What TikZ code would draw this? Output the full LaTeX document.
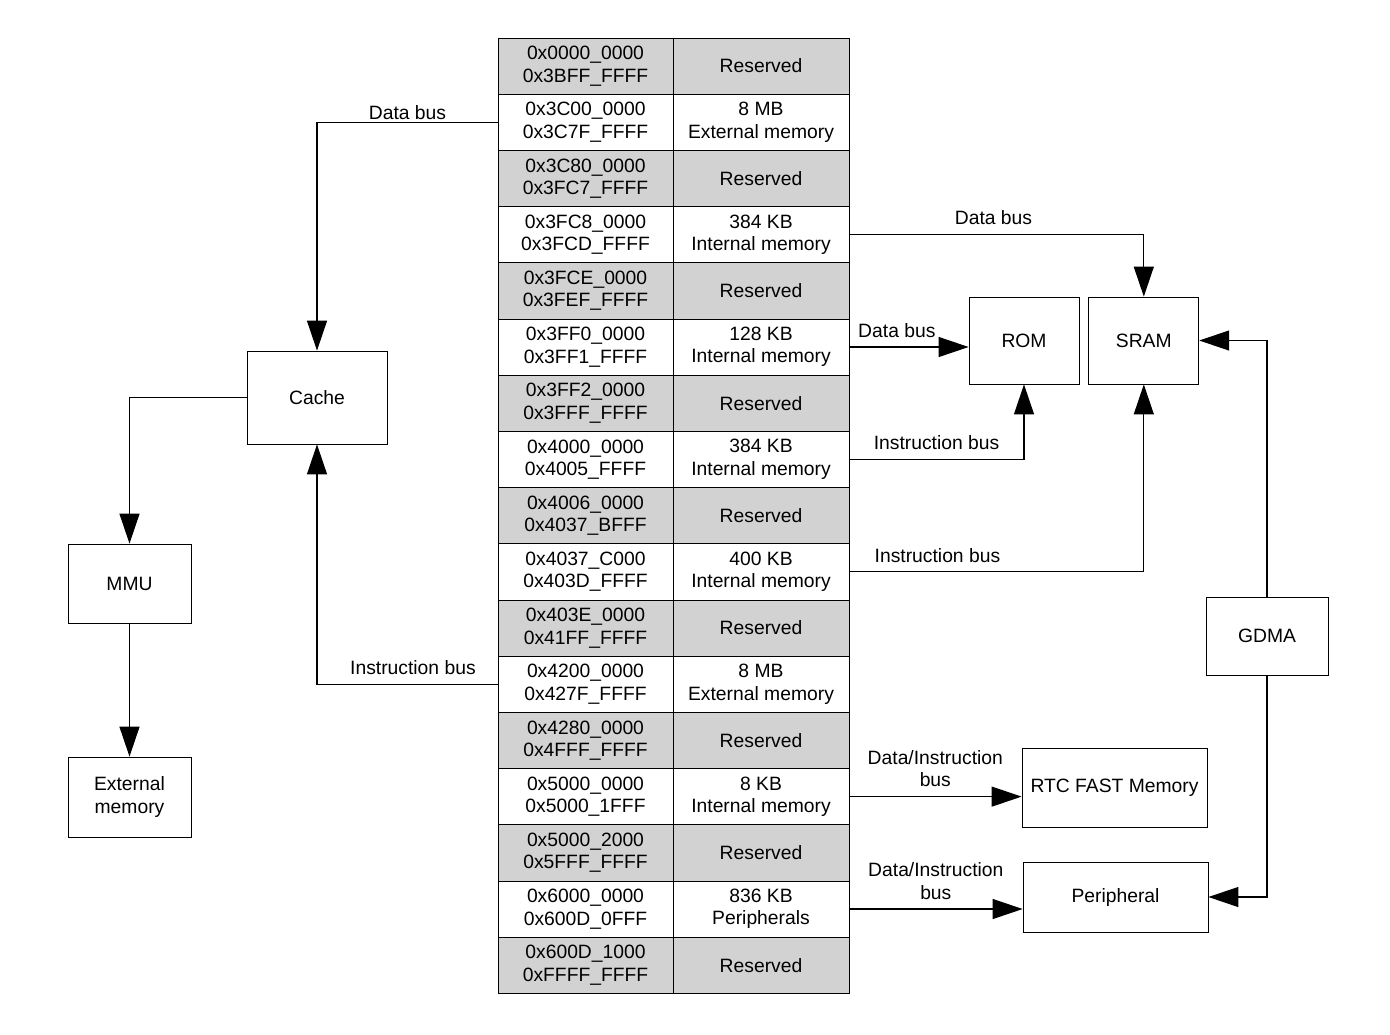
\documentclass[tikz,border=0pt]{standalone}
\usepackage{fontspec}
\setmainfont{Liberation Sans}
\usepackage{tikz}
\usetikzlibrary{arrows.meta, positioning}
\tikzstyle{cell} = [draw, minimum width = 87.5pt, minimum height = 28.1pt, inner sep = 0pt,
outer sep = 0pt, align = center, text centered]
\tikzstyle{resv} = [cell, fill = gray!35]
\tikzstyle{block} = [draw, align = center, text centered, inner sep = 0pt]
\tikzstyle{arrow} = [line width = 0.6pt, -{Triangle[length = 15pt, width = 10pt]}]
\tikzstyle{bus} = [above, inner sep = 4.5pt, align = center]

\begin{document}
\begin{tikzpicture} [x = 0.5pt, y = -0.5pt, font = \fontsize{9.65pt}{11.2pt}\selectfont]
\useasboundingbox (0,0) rectangle (1390,1034);

% memory map, address column
\node (addr0) [resv] at (585.5,66) {0x0000\_0000\\0x3BFF\_FFFF};
\node (addr1) [cell, below = 0pt of addr0] {0x3C00\_0000\\0x3C7F\_FFFF};
\node (addr2) [resv, below = 0pt of addr1] {0x3C80\_0000\\0x3FC7\_FFFF};
\node (addr3) [cell, below = 0pt of addr2] {0x3FC8\_0000\\0x3FCD\_FFFF};
\node (addr4) [resv, below = 0pt of addr3] {0x3FCE\_0000\\0x3FEF\_FFFF};
\node (addr5) [cell, below = 0pt of addr4] {0x3FF0\_0000\\0x3FF1\_FFFF};
\node (addr6) [resv, below = 0pt of addr5] {0x3FF2\_0000\\0x3FFF\_FFFF};
\node (addr7) [cell, below = 0pt of addr6] {0x4000\_0000\\0x4005\_FFFF};
\node (addr8) [resv, below = 0pt of addr7] {0x4006\_0000\\0x4037\_BFFF};
\node (addr9) [cell, below = 0pt of addr8] {0x4037\_C000\\0x403D\_FFFF};
\node (addr10) [resv, below = 0pt of addr9] {0x403E\_0000\\0x41FF\_FFFF};
\node (addr11) [cell, below = 0pt of addr10] {0x4200\_0000\\0x427F\_FFFF};
\node (addr12) [resv, below = 0pt of addr11] {0x4280\_0000\\0x4FFF\_FFFF};
\node (addr13) [cell, below = 0pt of addr12] {0x5000\_0000\\0x5000\_1FFF};
\node (addr14) [resv, below = 0pt of addr13] {0x5000\_2000\\0x5FFF\_FFFF};
\node (addr15) [cell, below = 0pt of addr14] {0x6000\_0000\\0x600D\_0FFF};
\node (addr16) [resv, below = 0pt of addr15] {0x600D\_1000\\0xFFFF\_FFFF};

% memory map, size column
\node (mem0) [resv, right = 0pt of addr0, minimum width = 88pt] {Reserved};
\node (mem1) [cell, right = 0pt of addr1, minimum width = 88pt] {8 MB\\External memory};
\node (mem2) [resv, right = 0pt of addr2, minimum width = 88pt] {Reserved};
\node (mem3) [cell, right = 0pt of addr3, minimum width = 88pt] {384 KB\\Internal memory};
\node (mem4) [resv, right = 0pt of addr4, minimum width = 88pt] {Reserved};
\node (mem5) [cell, right = 0pt of addr5, minimum width = 88pt] {128 KB\\Internal memory};
\node (mem6) [resv, right = 0pt of addr6, minimum width = 88pt] {Reserved};
\node (mem7) [cell, right = 0pt of addr7, minimum width = 88pt] {384 KB\\Internal memory};
\node (mem8) [resv, right = 0pt of addr8, minimum width = 88pt] {Reserved};
\node (mem9) [cell, right = 0pt of addr9, minimum width = 88pt] {400 KB\\Internal memory};
\node (mem10) [resv, right = 0pt of addr10, minimum width = 88pt] {Reserved};
\node (mem11) [cell, right = 0pt of addr11, minimum width = 88pt] {8 MB\\External memory};
\node (mem12) [resv, right = 0pt of addr12, minimum width = 88pt] {Reserved};
\node (mem13) [cell, right = 0pt of addr13, minimum width = 88pt] {8 KB\\Internal memory};
\node (mem14) [resv, right = 0pt of addr14, minimum width = 88pt] {Reserved};
\node (mem15) [cell, right = 0pt of addr15, minimum width = 88pt] {836 KB\\Peripherals};
\node (mem16) [resv, right = 0pt of addr16, minimum width = 88pt] {Reserved};

% left side
\node (cache) [block, minimum width = 70pt, minimum height = 46.5pt] at (317,397.5) {Cache};
\node (mmu) [block, minimum width = 61.5pt, minimum height = 39.5pt] at (129.5,583.5) {MMU};
\node (extmem) [block, minimum width = 61.5pt, minimum height = 40pt] at (129.5,797) {External\\memory};

% right side
\node (rom) [block, minimum width = 55pt, minimum height = 43.5pt] at (1024,340.5) {ROM};
\node (sram) [block, right = 4.5pt of rom, minimum width = 55pt, minimum height = 43.5pt] {SRAM};
\node (gdma) [block, minimum width = 61pt, minimum height = 39pt] at (1267,636) {GDMA};
\node (rtc) [block, minimum width = 92.5pt, minimum height = 39.5pt] at (1114.5,787.5) {RTC FAST Memory};
\node (periph) [block, minimum width = 92.5pt, minimum height = 35pt] at (1115.5,897) {Peripheral};

\draw[arrow] (addr1.west) -| node[bus, pos = 0.25, inner sep = 1pt]{Data bus} (cache.north);
\draw[arrow] (addr11.west) -| node[bus, pos = 0.235]{Instruction bus} (cache.south);
\draw[arrow] (cache.west) -| (mmu.north);
\draw[arrow] (mmu) -- (extmem);

\draw[arrow] (mem3.east) -| node[bus, pos = 0.245]{Data bus} (sram.north);
\draw[arrow] (mem5.east) -- node[bus, pos = 0.4]{Data bus} (mem5.east -| rom.west);
\draw[arrow] (mem7.east) -| node[bus, pos = 0.25]{Instruction bus} (rom.south);
\draw[arrow] (mem9.east) -| node[bus, pos = 0.15]{Instruction bus} (sram.south);
\draw[arrow] (mem13.east) -- node[bus]{Data/Instruction\\bus} (mem13.east -| rtc.west);
\draw[arrow] (mem15.east) -- node[bus]{Data/Instruction\\bus} (mem15.east -| periph.west);

\draw[arrow] (gdma.north) |- (sram.east);
\draw[arrow] (gdma.south) |- (periph.east);
\end{tikzpicture}
\end{document}
